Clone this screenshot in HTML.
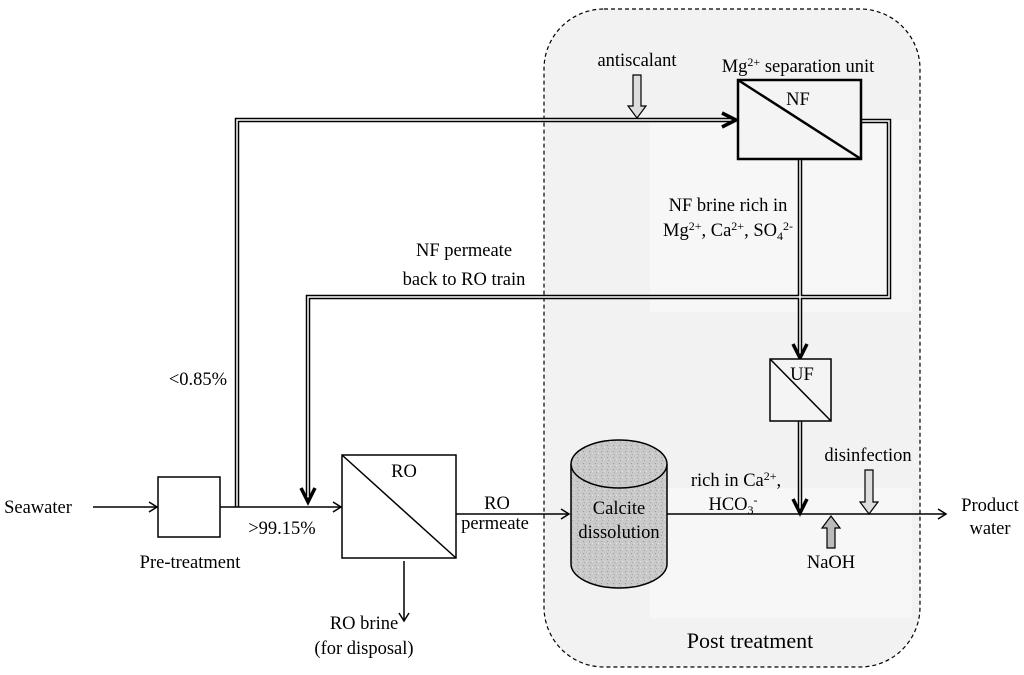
<!DOCTYPE html>
<html><head><meta charset="utf-8"><style>
html,body{margin:0;padding:0;background:#fff;}
svg{display:block;}
text{font-family:"Liberation Serif","Times New Roman",serif;}
</style></head><body>
<svg width="1024" height="675" viewBox="0 0 1024 675" xmlns="http://www.w3.org/2000/svg">
<defs>
<pattern id="stip" width="6" height="6" patternUnits="userSpaceOnUse">
<rect width="6" height="6" fill="#c9c9c9"/>
<rect x="1" y="1" width="1" height="1" fill="#9a9a9a"/>
<rect x="4" y="3" width="1" height="1" fill="#e6e6e6"/>
<rect x="2" y="4" width="1" height="1" fill="#a8a8a8"/>
</pattern>
</defs>
<rect x="544" y="9" width="376" height="658" rx="60" ry="60" fill="#f2f2f2" stroke="#000" stroke-width="1.2" stroke-dasharray="4,3"/>
<rect x="650" y="120" width="262" height="192" fill="#f7f7f7"/>
<rect x="650" y="488" width="262" height="130" fill="#f7f7f7"/>

<g fill="none" stroke="#000">
<g stroke-width="4.5" stroke-linejoin="miter">
<polyline points="237,507 237,120 734,120"/>
<polyline points="861,121 889,121 889,297 308,297 308,496"/>
<line x1="800" y1="159" x2="800" y2="355"/>
<line x1="800" y1="421" x2="800" y2="510"/>
</g>
<g stroke="#fff" stroke-width="1.5">
<polyline points="237,507 237,120 734,120"/>
<polyline points="861,121 889,121 889,297 308,297 308,496"/>
<line x1="800" y1="159" x2="800" y2="355"/>
<line x1="800" y1="421" x2="800" y2="510"/>
</g>
<g stroke-width="3.5">
<polyline points="722,113 736,120 722,127"/>
<polyline points="301,488 308,502 315,488"/>
<polyline points="793,344 800,358 807,344"/>
<polyline points="793,499 800,513 807,499"/>
</g>
<g stroke-width="1.5">
<line x1="93" y1="507" x2="157" y2="507"/>
<polyline points="149,502 157,507 149,512"/>
<line x1="220" y1="507" x2="341" y2="507"/>
<polyline points="333,502 341,507 333,512"/>
<line x1="456" y1="514" x2="569" y2="514"/>
<polyline points="561,509 569,514 561,519"/>
<line x1="667" y1="514" x2="946" y2="514"/>
<polyline points="938,509 946,514 938,519"/>
<line x1="404" y1="561" x2="404" y2="621"/>
<polyline points="399,613 404,621 409,613"/>
</g>
<rect x="158" y="477" width="62" height="60" stroke-width="1.5" fill="#fff"/>
<rect x="342" y="455" width="114" height="103" stroke-width="1.5" fill="#fff"/>
<line x1="342" y1="455" x2="456" y2="558" stroke-width="1.5"/>
<rect x="738" y="80" width="123" height="79" stroke-width="2.5" fill="#f4f4f4"/>
<line x1="738" y1="80" x2="861" y2="159" stroke-width="2.5"/>
<rect x="770" y="359" width="61" height="62" stroke-width="1.5" fill="#f4f4f4"/>
<line x1="770" y1="359" x2="831" y2="421" stroke-width="1.5"/>
<path d="M571,464 L571,564 A48,24 0 0 0 667,564 L667,464" fill="url(#stip)" stroke-width="1.5"/>
<ellipse cx="619" cy="464" rx="48" ry="24" fill="url(#stip)" stroke-width="1.5"/>
<path d="M633,75 L641,75 L641,106 L646,106 L637,118 L628,106 L633,106 Z" fill="#ddd" stroke-width="1.2"/>
<path d="M865,470 L873,470 L873,502 L878,502 L869,514 L860,502 L865,502 Z" fill="#ddd" stroke-width="1.2"/>
<path d="M827,548 L835,548 L835,528 L840,528 L831,516 L822,528 L827,528 Z" fill="#bbb" stroke-width="1.2"/>
</g>

<g font-size="18.5" fill="#000" text-anchor="middle" font-family="Liberation Serif, serif">
<text x="38" y="513">Seawater</text>
<text x="190" y="568">Pre-treatment</text>
<text x="198" y="385">&lt;0.85%</text>
<text x="282" y="534">&gt;99.15%</text>
<text x="464" y="256">NF permeate</text>
<text x="464" y="285">back to RO train</text>
<text x="404" y="477">RO</text>
<text x="497" y="509">RO</text>
<text x="495" y="529">permeate</text>
<text x="364" y="629">RO brine</text>
<text x="364" y="654">(for disposal)</text>
<text x="637" y="66">antiscalant</text>
<text x="798" y="72">Mg<tspan font-size="12" dy="-6">2+</tspan><tspan dy="6"> separation unit</tspan></text>
<text x="798" y="105">NF</text>
<text x="728" y="211">NF brine rich in</text>
<text x="728" y="236">Mg<tspan font-size="12" dy="-6">2+</tspan><tspan dy="6">, Ca</tspan><tspan font-size="12" dy="-6">2+</tspan><tspan dy="6">, SO</tspan><tspan font-size="12" dy="4">4</tspan><tspan font-size="12" dy="-10">2-</tspan></text>
<text x="802" y="380">UF</text>
<text x="619" y="514">Calcite</text>
<text x="619" y="538">dissolution</text>
<text x="736" y="486">rich in Ca<tspan font-size="12" dy="-6">2+</tspan><tspan dy="6">,</tspan></text>
<text x="733" y="510">HCO<tspan font-size="12" dy="4">3</tspan><tspan font-size="12" dy="-10">-</tspan></text>
<text x="868" y="461">disinfection</text>
<text x="831" y="568">NaOH</text>
<text x="990" y="511">Product</text>
<text x="990" y="534">water</text>
<text x="750" y="648" font-size="22">Post treatment</text>
</g>
</svg>
</body></html>
